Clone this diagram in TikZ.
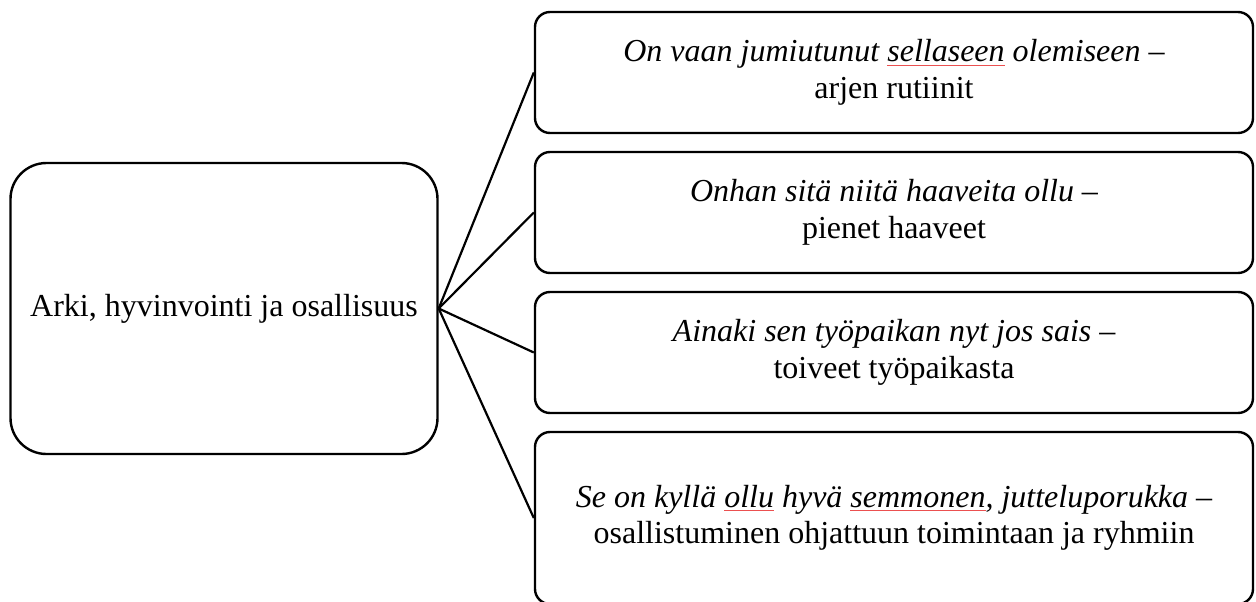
\documentclass[tikz,border=0pt]{standalone}
\usepackage{fontspec}
\setmainfont{Liberation Serif}
\definecolor{spellred}{RGB}{235,80,80}
\newcommand\spellmark[1]{\setbox0\hbox{#1}\rlap{\textcolor{spellred}{\rule[-4pt]{\wd0}{1pt}}}\box0\relax}
\begin{document}
\begin{tikzpicture}[x=1pt,y=-1pt,line width=2.4pt,
  every node/.style={font=\fontsize{32}{36.5}\selectfont},
  leftbox/.style={draw, rounded corners=36pt, minimum width=427pt, minimum height=291pt, inner sep=0pt, align=center},
  rightbox/.style={draw, rounded corners=15pt, minimum width=718pt, minimum height=121pt, inner sep=0pt, align=center},
  link/.style={line width=2.2pt}]
\useasboundingbox (0,0) rectangle (1256,602);
\node[leftbox] (hub) at (224,308.5) {Arki, hyvinvointi ja osallisuus};
\node[rightbox] (b1) at (894,72.5) {\textit{On vaan jumiutunut \spellmark{sellaseen} olemiseen} –\\arjen rutiinit};
\node[rightbox] (b2) at (894,212.5) {\textit{Onhan sitä niitä haaveita ollu} –\\pienet haaveet};
\node[rightbox] (b3) at (894,352.5) {\textit{Ainaki sen työpaikan nyt jos sais} –\\toiveet työpaikasta};
\node[rightbox, minimum height=172pt] (b4) at (894,518) {\textit{Se on kyllä \spellmark{ollu} hyvä \spellmark{semmonen}, jutteluporukka} –\\osallistuminen ohjattuun toimintaan ja ryhmiin};
\draw[link] (hub.east) -- (b1.west);
\draw[link] (hub.east) -- (b2.west);
\draw[link] (hub.east) -- (b3.west);
\draw[link] (hub.east) -- (b4.west);
\end{tikzpicture}
\end{document}
